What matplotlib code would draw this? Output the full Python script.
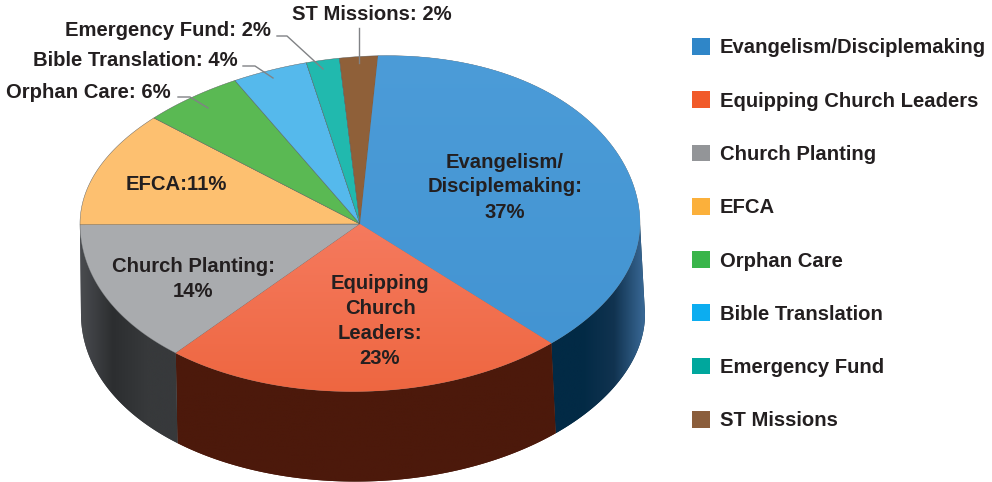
import numpy as np
from matplotlib import pyplot as plt
from matplotlib.colors import LinearSegmentedColormap
from matplotlib.patches import Patch, Polygon

plt.rcParams['font.family'] = ['Liberation Sans', 'DejaVu Sans']

categories = ['Evangelism/Disciplemaking', 'Equipping Church Leaders', 'Church Planting', 'EFCA',
              'Orphan Care', 'Bible Translation', 'Emergency Fund', 'ST Missions']
# shares, the printed labels are rounded
shares = [37.0, 23.4, 13.5, 11.9, 5.8, 4.3, 1.9, 2.2]
legend_colors = ['#2f86c8', '#f15a29', '#939598', '#fbb03b', '#39b54a', '#0cadf0', '#00a79d', '#8b5e3c']
top_colors = ['#4798d5', '#f3704f', '#a9abae', '#fdc070', '#5ab953', '#55b9ec', '#21b9ae', '#8f6039']

inside_labels = ['Evangelism/\nDisciplemaking:\n37%', 'Equipping\nChurch\nLeaders:\n23%',
                 'Church Planting:\n14%', 'EFCA:11%']
inside_pos = [(505, 187), (380, 321), (193, 279), (176, 184)]
outside_labels = ['Orphan Care: 6%', 'Bible Translation: 4%', 'Emergency Fund: 2%', 'ST Missions: 2%']
outside_pos = [(171, 92), (238, 61), (271, 30), (452, 14)]
leaders = [[(178, 97), (190, 97), (208, 108)],
           [(243, 66), (255, 66), (273, 78)],
           [(277, 36), (287, 36), (323, 69)],
           [(359, 28), (359, 63)]]

W, H = 992, 482
TEXT = '#231f20'
CX, CY, RX, RY = 360, 224, 280, 167.5
DEPTH, SHIFT = 90, 4
START = 3.7


def rim(deg):
    """point on the pie rim, deg clockwise from the top. the printed disc is not a clean ellipse"""
    t = np.radians(deg)
    x, y = np.sin(t), np.cos(t)
    warp = x * np.abs(y) * (10.5 + 6 * y)
    return CX + RX * x, CY - RY * y - warp


def fill_gradient(ax, patch, colors, direction, extent):
    """gradient image clipped to a patch"""
    cmap = LinearSegmentedColormap.from_list('g', colors)
    ramp = np.linspace(0, 1, 256)
    ramp = ramp.reshape(1, -1) if direction == 'x' else ramp.reshape(-1, 1)
    im = ax.imshow(ramp, cmap=cmap, extent=extent, origin='upper', aspect='auto',
                   zorder=patch.get_zorder(), interpolation='bilinear')
    im.set_clip_box(None)
    im.set_clip_path(patch)


fig = plt.figure(figsize=(W / 100, H / 100), dpi=100)
ax = fig.add_axes([0, 0, 1, 1])
ax.set_axis_off()

edges = START + np.cumsum([0] + shares) * 360 / sum(shares)

# side wall of each slice that faces the viewer
wall_colors = {0: ['#022a45', '#022a45', '#113350', '#3b6b99'],
               1: ['#4c190b', '#4c190b'],
               2: ['#4a4c50', '#2c2e30', '#37393b', '#37393b']}
wall_extent = {0: (551, 646, 490, 200), 1: (170, 560, 490, 300), 2: (80, 180, 490, 200)}
for i in wall_colors:
    lo, hi = max(edges[i], 90), min(edges[i + 1], 270)
    xs, ys = rim(np.linspace(lo, hi, 80))
    upper = np.column_stack([xs, ys])
    lower = np.column_stack([xs + SHIFT * (xs - 80) / 560 + 1, ys + DEPTH])[::-1]
    wall = Polygon(np.vstack([upper, lower]), closed=True, facecolor=wall_colors[i][0],
                   edgecolor='none', zorder=1)
    ax.add_patch(wall)
    fill_gradient(ax, wall, wall_colors[i], 'x', wall_extent[i])

# top of the pie
slices = []
for i, c in enumerate(top_colors):
    xs, ys = rim(np.linspace(edges[i], edges[i + 1], 80))
    outline = np.vstack([[CX, CY], np.column_stack([xs, ys])])
    p = Polygon(outline, closed=True, facecolor=c, edgecolor='#55585a', linewidth=0.3, zorder=3)
    ax.add_patch(p)
    slices.append(p)

# soft shading on the two big slices
fill_gradient(ax, slices[0], ['#4c9cd8', '#4394d2'], 'y', (360, 650, 350, 50))
fill_gradient(ax, slices[1], ['#f57a5e', '#ee6640'], 'y', (170, 560, 395, 224))

ax.set_xlim(0, W)
ax.set_ylim(H, 0)

for text, pos in zip(inside_labels, inside_pos):
    ax.text(pos[0], pos[1], text, ha='center', va='center', fontsize=14.6, fontweight='bold',
            color=TEXT, linespacing=1.4, zorder=5)
for text, pos in zip(outside_labels, outside_pos):
    ax.text(pos[0], pos[1], text, ha='right', va='center', fontsize=14.6, fontweight='bold', color=TEXT)
for line in leaders:
    xs, ys = zip(*line)
    ax.plot(xs, ys, color='#808285', lw=1, zorder=4)

handles = [Patch(facecolor=c, edgecolor='none') for c in legend_colors]
ax.legend(handles, categories, loc='upper left', bbox_to_anchor=(692, 38), bbox_transform=ax.transData,
          frameon=False, borderpad=0, borderaxespad=0, handlelength=0.9, handleheight=0.9,
          handletextpad=0.47, labelspacing=1.67, prop={'size': 14.6, 'weight': 'bold'}, labelcolor=TEXT)

fig.savefig('out.png', dpi=100)
